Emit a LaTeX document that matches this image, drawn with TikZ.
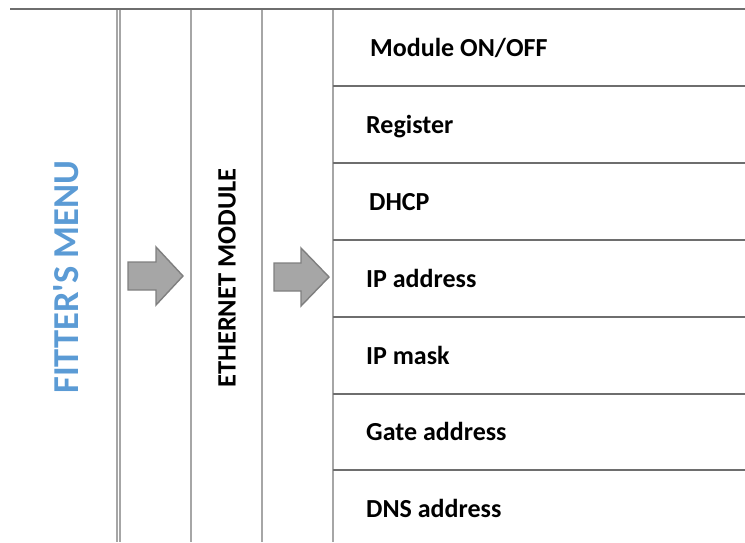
\documentclass[tikz,border=0pt]{standalone}
\usepackage{fontspec}
\setmainfont{Carlito}
\definecolor{menublue}{HTML}{5B9BD5}
\definecolor{rulegray}{HTML}{6E6E6E}
\definecolor{colgray}{HTML}{A6A6A6}
\definecolor{arrowfill}{HTML}{A6A6A6}
\definecolor{arrowedge}{HTML}{7F7F7F}

\begin{document}
\begin{tikzpicture}[x=1pt,y=-1pt,
		rowline/.style={rulegray,line width=1.8pt},
		colline/.style={colgray,line width=1.1pt},
		thickcol/.style={colgray,line width=2.8pt},
		menuarrow/.style={fill=arrowfill,draw=arrowedge,line width=1.4pt,line join=miter},
		item/.style={anchor=base west,inner sep=0pt,font=\bfseries\fontsize{26}{30}\selectfont},
		vtitle/.style={rotate=90,inner sep=0pt,font=\bfseries\fontsize{26.5}{30}\selectfont}]
		\useasboundingbox (0,0) rectangle (745,542);
		% columns
		\draw[colline] (117,9) -- (117,542);
		\draw[colline] (120,9) -- (120,542);
		\draw[colline] (191,9) -- (191,542);
		\draw[thickcol] (262,9) -- (262,542);
		\draw[colline] (333,9) -- (333,542);
		% rows
		\draw[rowline] (10,9) -- (745,9);
		\draw[rowline] (333,86) -- (745,86);
		\draw[rowline] (333,163) -- (745,163);
		\draw[rowline] (333,240) -- (745,240);
		\draw[rowline] (333,317) -- (745,317);
		\draw[rowline] (333,394) -- (745,394);
		\draw[rowline] (333,470) -- (745,470);
		% titles
		\node[vtitle,text=menublue,font=\bfseries\fontsize{36.5}{40}\selectfont] (fitter) at (66,277) {FITTER\textquotesingle S MENU};
		\node[vtitle] (ethernet) at (227,278) {ETHERNET MODULE};
		% arrows
		\coordinate (arrowA) at (128,276);
		\coordinate (arrowB) at (274,277);
		\draw[menuarrow] (arrowA) ++(0,-14) -- ++(28,0) -- ++(0,-15) -- ++(27,29) -- ++(-27,29) -- ++(0,-15) -- ++(-28,0) -- cycle;
		\draw[menuarrow] (arrowB) ++(0,-14) -- ++(27,0) -- ++(0,-15) -- ++(28,29) -- ++(-28,29) -- ++(0,-15) -- ++(-27,0) -- cycle;
		% menu items
		\node[item] (onoff) at (370,56) {Module ON/OFF};
		\node[item] (register) at (366,133) {Register};
		\node[item] (dhcp) at (369,210) {DHCP};
		\node[item] (ipaddr) at (366,287) {IP address};
		\node[item] (ipmask) at (366,364) {IP mask};
		\node[item] (gate) at (366,440) {Gate address};
		\node[item] (dns) at (366,517) {DNS address};
	\end{tikzpicture}
\end{document}
